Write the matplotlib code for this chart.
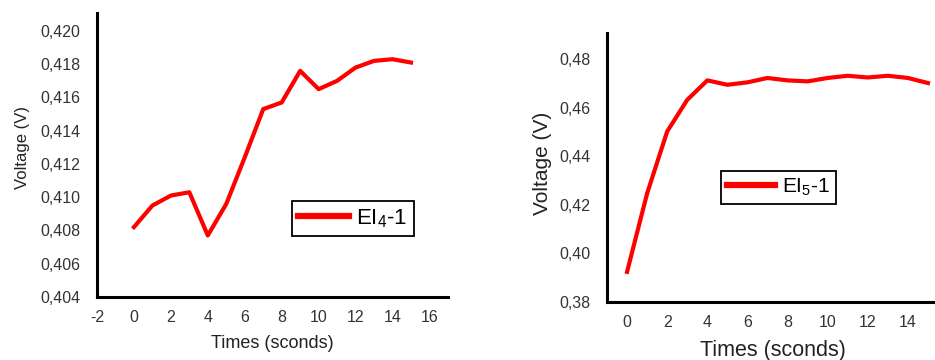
import matplotlib
matplotlib.use("Agg")
import matplotlib.pyplot as plt
from matplotlib.ticker import FuncFormatter, MultipleLocator

plt.rcParams['font.family'] = ['Liberation Sans', 'DejaVu Sans']
plt.rcParams['mathtext.fontset'] = 'custom'
plt.rcParams['mathtext.rm'] = 'Liberation Sans'
plt.rcParams['mathtext.it'] = 'Liberation Sans'
plt.rcParams['axes.unicode_minus'] = False

# EI4-1 voltage over time
t4 = [0, 1, 2, 3, 4, 5, 6, 7, 8, 9, 10, 11, 12, 13, 14, 15]
v4 = [0.4082, 0.4095, 0.4101, 0.4103, 0.4077, 0.4096, 0.4124, 0.4153,
      0.4157, 0.4176, 0.4165, 0.4170, 0.4178, 0.4182, 0.4183, 0.4181]

# EI5-1 voltage over time
t5 = [0, 1, 2, 3, 4, 5, 6, 7, 8, 9, 10, 11, 12, 13, 14, 15]
v5 = [0.3924, 0.4247, 0.4502, 0.4632, 0.4712, 0.4694, 0.4704, 0.4722,
      0.4712, 0.4708, 0.4722, 0.4731, 0.4724, 0.4731, 0.4722, 0.4701]

label4 = 'EI$_4$-1'
label5 = 'EI$_5$-1'
xlabel = 'Times (sconds)'
ylabel = 'Voltage (V)'


def comma_fmt(nd):
    return FuncFormatter(lambda v, p: f'{v:.{nd}f}'.replace('.', ','))


def style_axes(ax, tick_size):
    for s in ['top', 'right']:
        ax.spines[s].set_visible(False)
    for s in ['left', 'bottom']:
        ax.spines[s].set_linewidth(2.2)
        ax.spines[s].set_color('black')
    ax.tick_params(length=0, labelsize=tick_size, labelcolor='#333333')
    ax.tick_params(axis='y', pad=12)
    ax.tick_params(axis='x', pad=9)


def add_legend(ax, center, size):
    leg = ax.legend(loc='center', bbox_to_anchor=center, fontsize=size,
                    handlelength=2.3, handletextpad=0.3, borderpad=0.3,
                    fancybox=False, framealpha=1)
    leg.get_frame().set_edgecolor('black')
    leg.get_frame().set_linewidth(1.3)
    leg.get_lines()[0].set_linewidth(4.5)
    return leg


fig = plt.figure(figsize=(9.35, 3.6), dpi=100)

# left panel
ax1 = fig.add_axes([0.1037, 0.175, 0.3754, 0.7889])
ax1.plot(t4, v4, color='#ff0000', linewidth=3, label=label4)
ax1.set_xlim(-2, 17)
ax1.set_ylim(0.404, 0.42108)
ax1.xaxis.set_major_locator(MultipleLocator(2))
ax1.yaxis.set_major_locator(MultipleLocator(0.002))
ax1.yaxis.set_major_formatter(comma_fmt(3))
style_axes(ax1, 11.5)
ax1.set_xlabel(xlabel, fontsize=13, color='#222222')
ax1.set_ylabel(ylabel, fontsize=12, color='#222222')
ax1.xaxis.set_label_coords(0.499, -0.134)
ax1.yaxis.set_label_coords(-0.191, 0.528)
add_legend(ax1, (0.729, 0.2765), 16)

# right panel
ax2 = fig.add_axes([0.6492, 0.1611, 0.3508, 0.7472])
ax2.plot(t5, v5, color='#ff0000', linewidth=3, label=label5)
ax2.set_xlim(-1, 15.35)
ax2.set_ylim(0.38, 0.4907)
ax2.set_xticks([0, 2, 4, 6, 8, 10, 12, 14])
ax2.yaxis.set_major_locator(MultipleLocator(0.02))
ax2.yaxis.set_major_formatter(comma_fmt(2))
style_axes(ax2, 11.5)
ax2.set_xlabel(xlabel, fontsize=15.5, color='#222222')
ax2.set_ylabel(ylabel, fontsize=15, color='#222222')
ax2.xaxis.set_label_coords(0.506, -0.141)
ax2.yaxis.set_label_coords(-0.168, 0.517)
add_legend(ax2, (0.523, 0.426), 15)

fig.savefig('out.png', dpi=100)
